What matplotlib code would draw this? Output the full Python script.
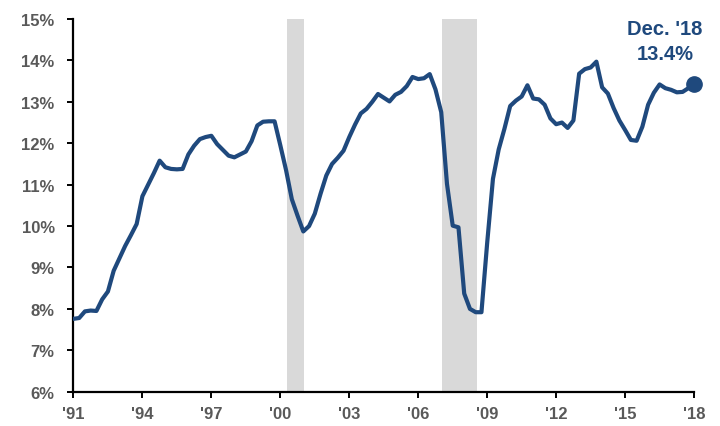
import matplotlib
matplotlib.use("Agg")
import matplotlib.pyplot as plt

# Decimal-year positions (tick '91 = 1991.0 ... '18 = 2018.0) and values (%)
years = [
    1991.00, 1991.25, 1991.50, 1991.75, 1992.00, 1992.25, 1992.50, 1992.75,
    1993.00, 1993.25, 1993.50, 1993.75, 1994.00, 1994.25, 1994.50, 1994.75,
    1995.00, 1995.25, 1995.50, 1995.75, 1996.00, 1996.25, 1996.50, 1996.75,
    1997.00, 1997.25, 1997.50, 1997.75, 1998.00, 1998.25, 1998.50, 1998.75,
    1999.00, 1999.25, 1999.50, 1999.75, 2000.00, 2000.25, 2000.50, 2000.75,
    2001.00, 2001.25, 2001.50, 2001.75, 2002.00, 2002.25, 2002.50, 2002.75,
    2003.00, 2003.25, 2003.50, 2003.75, 2004.00, 2004.25, 2004.50, 2004.75,
    2005.00, 2005.25, 2005.50, 2005.75, 2006.00, 2006.25, 2006.50, 2006.75,
    2007.00, 2007.25, 2007.50, 2007.75, 2008.00, 2008.25, 2008.50, 2008.75,
    2009.00, 2009.25, 2009.50, 2009.75, 2010.00, 2010.25, 2010.50, 2010.75,
    2011.00, 2011.25, 2011.50, 2011.75, 2012.00, 2012.25, 2012.50, 2012.75,
    2013.00, 2013.25, 2013.50, 2013.75, 2014.00, 2014.25, 2014.50, 2014.75,
    2015.00, 2015.25, 2015.50, 2015.75, 2016.00, 2016.25, 2016.50, 2016.75,
    2017.00, 2017.25, 2017.50, 2017.75, 2018.00,
]
values = [
    7.76, 7.78, 7.94, 7.96, 7.95, 8.23, 8.42, 8.92,
    9.22, 9.52, 9.78, 10.05, 10.72, 11.00, 11.28, 11.58,
    11.42, 11.38, 11.37, 11.38, 11.73, 11.94, 12.10, 12.15,
    12.18, 11.98, 11.84, 11.70, 11.66, 11.73, 11.80, 12.05,
    12.43, 12.52, 12.53, 12.53, 11.95, 11.35, 10.65, 10.25,
    9.87, 10.00, 10.30, 10.78, 11.22, 11.50, 11.65, 11.82,
    12.15, 12.45, 12.72, 12.83, 13.00, 13.19, 13.10, 13.01,
    13.17, 13.24, 13.38, 13.60, 13.55, 13.57, 13.67, 13.30,
    12.75, 11.02, 10.01, 9.97, 8.37, 8.00, 7.92, 7.92,
    9.60, 11.14, 11.85, 12.35, 12.90, 13.03, 13.13, 13.40,
    13.08, 13.06, 12.93, 12.60, 12.46, 12.50, 12.37, 12.55,
    13.68, 13.79, 13.83, 13.97, 13.35, 13.20, 12.85, 12.55,
    12.32, 12.08, 12.06, 12.40, 12.93, 13.22, 13.42, 13.33,
    13.29, 13.23, 13.24, 13.33, 13.43,
]

recessions = [(2000.30, 2001.03), (2007.05, 2008.55)]

xtick_pos = [1991, 1994, 1997, 2000, 2003, 2006, 2009, 2012, 2015, 2018]
xtick_labels = ["'91", "'94", "'97", "'00", "'03", "'06", "'09", "'12", "'15", "'18"]
ytick_pos = [6, 7, 8, 9, 10, 11, 12, 13, 14, 15]
ytick_labels = ["6%", "7%", "8%", "9%", "10%", "11%", "12%", "13%", "14%", "15%"]

last_label = "Dec. '18"
last_value_label = "13.4%"

navy = "#1F497D"
gray_text = "#595959"

plt.rcParams['font.family'] = ['Liberation Sans', 'DejaVu Sans']

fig = plt.figure(figsize=(7.2, 4.27), dpi=100)
ax = fig.add_axes([0.102, 0.0803, 0.862, 0.8728])

for start, end in recessions:
    ax.axvspan(start, end, color="#D9D9D9", lw=0, zorder=0)

ax.plot(years, values, color=navy, lw=3.0, zorder=3, solid_joinstyle="round")
ax.plot([years[-1]], [values[-1]], "o", color=navy, ms=11, clip_on=False, zorder=4)

ax.text(2016.74, 14.76, last_label, ha="center", va="center", color=navy,
        fontsize=14.5, fontweight="bold")
ax.text(2016.74, 14.16, last_value_label, ha="center", va="center", color=navy,
        fontsize=14.5, fontweight="bold")

ax.set_xlim(1991, 2018)
ax.set_ylim(6, 15)
ax.set_xticks(xtick_pos)
ax.set_xticklabels(xtick_labels)
ax.set_yticks(ytick_pos)
ax.set_yticklabels(ytick_labels)

for s in ["top", "right"]:
    ax.spines[s].set_visible(False)
for s in ["left", "bottom"]:
    ax.spines[s].set_linewidth(1.6)
    ax.spines[s].set_color("black")

ax.tick_params(axis="both", direction="out", length=4.5, width=1.4, color="black",
               labelcolor=gray_text, labelsize=12)
ax.tick_params(axis="y", pad=9)
ax.tick_params(axis="x", pad=6)
for lab in ax.get_xticklabels() + ax.get_yticklabels():
    lab.set_fontweight("bold")

fig.savefig("out.png", dpi=100)
